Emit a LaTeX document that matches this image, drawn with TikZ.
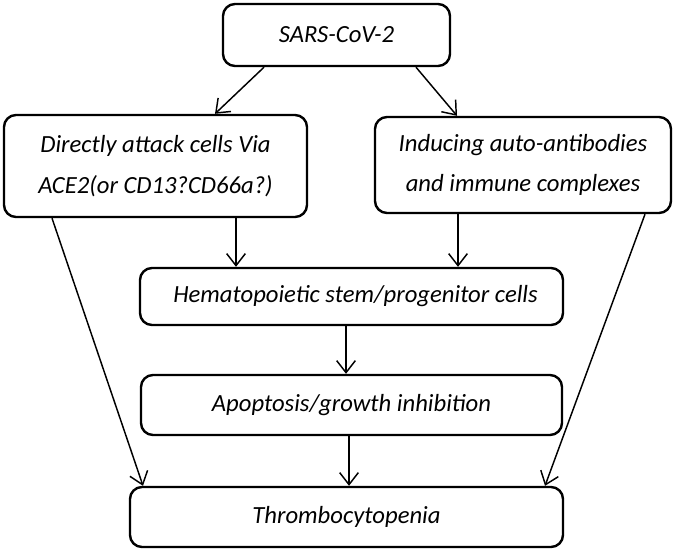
\documentclass[tikz,border=0pt]{standalone}
\usepackage{fontspec}
\setmainfont{Carlito}
\usetikzlibrary{arrows.meta,calc}
\begin{document}
\begin{tikzpicture}[x=0.75pt,y=-0.75pt,
  box/.style={draw=black,line width=1.8pt,rounded corners=9pt,inner sep=0pt,align=center,font=\itshape\fontsize{18.5}{30.5}\selectfont},
  arr/.style={draw=black,line width=1.1pt,-{Straight Barb[length=9pt,width=14pt,line width=1.1pt]}}]
\useasboundingbox (0,0) rectangle (673,551);
\node[box,minimum width=227*0.75pt,minimum height=62*0.75pt] (sars) at (336.5,35) {SARS-CoV-2};
\node[box,minimum width=303*0.75pt,minimum height=102*0.75pt] (left) at (155.5,166) {Directly attack cells Via\\ACE2(or CD13?CD66a?)};
\node[box,minimum width=296*0.75pt,minimum height=96*0.75pt] (right) at (523,165) {Inducing auto-antibodies\\and immune complexes};
\node[box,minimum width=423*0.75pt,minimum height=57*0.75pt] (hema) at (351.5,296.5) {\hspace*{6pt}Hematopoietic stem/progenitor cells};
\node[box,minimum width=421*0.75pt,minimum height=60*0.75pt] (apop) at (351.5,405) {Apoptosis/growth inhibition};
\node[box,minimum width=433*0.75pt,minimum height=60*0.75pt] (thromb) at (346.5,517) {Thrombocytopenia};
\draw[arr] ($(sars.south)+(-72.5,0)$) -- ($(left.north)+(59.5,0)$);
\draw[arr] ($(sars.south)+(79.5,0)$) -- ($(right.north)+(-66,0)$);
\draw[arr] ($(left.south)+(80.5,0)$) -- ($(hema.north)+(-115.5,0)$);
\draw[arr] ($(right.south)+(-65,0)$) -- ($(hema.north)+(106.5,0)$);
\draw[arr] ($(hema.south)+(-5.5,0)$) -- ($(apop.north)+(-5.5,0)$);
\draw[arr] ($(apop.south)+(-2.5,0)$) -- ($(thromb.north)+(2.5,0)$);
\draw[arr] ($(left.south)+(-103.5,0)$) -- ($(thromb.north)+(-203.5,0)$);
\draw[arr] ($(right.south)+(122,0)$) -- ($(thromb.north)+(198.5,0)$);
\end{tikzpicture}
\end{document}
